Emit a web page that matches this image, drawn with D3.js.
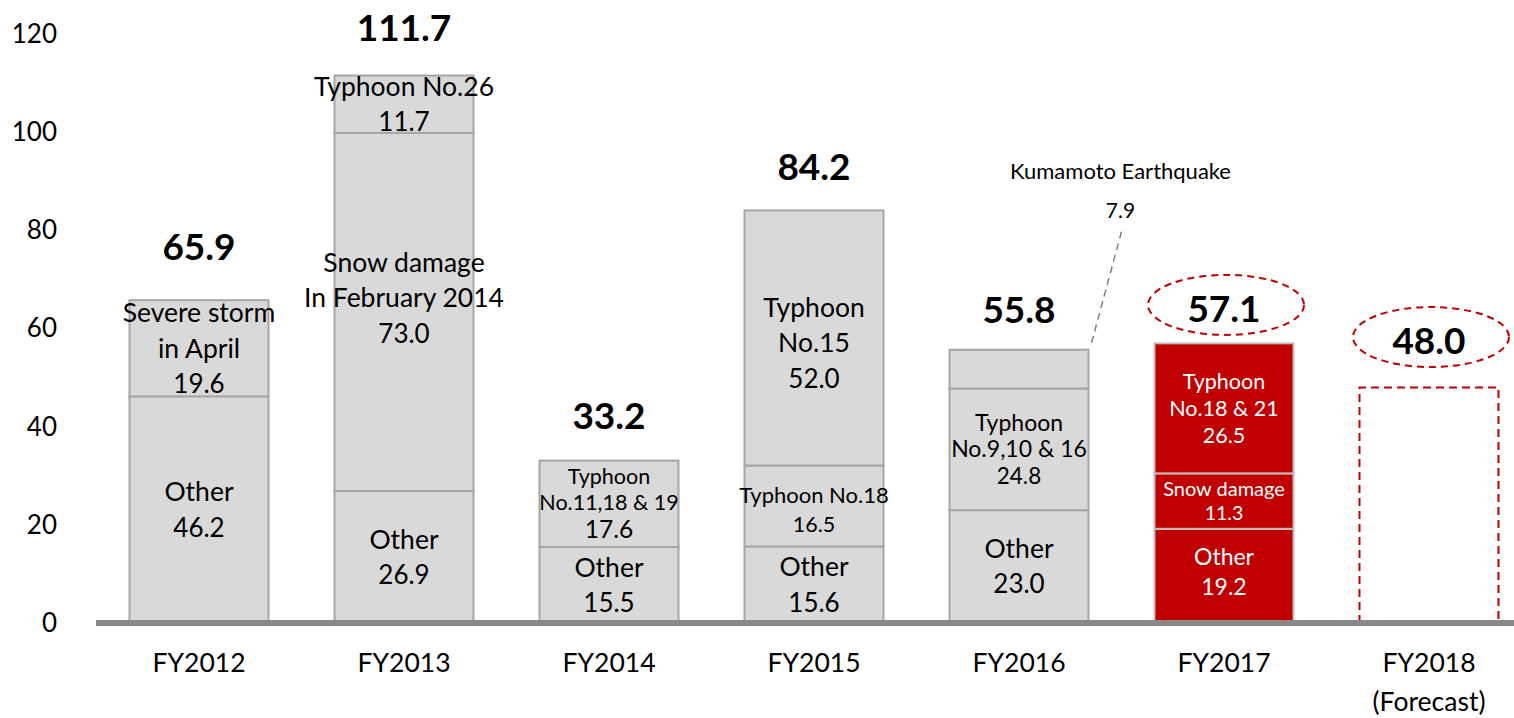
<!DOCTYPE html>
<html>
<head>
<meta charset="utf-8">
<script src="https://cdn.jsdelivr.net/npm/d3@7"></script>
<style>
  body { margin: 0; background: #fff; }
  svg { font-family: Lato, "Open Sans", sans-serif; }
</style>
</head>
<body>
<div id="chart"></div>
<script>
// data
var categories = ["FY2012", "FY2013", "FY2014", "FY2015", "FY2016", "FY2017", "FY2018"];
var tickLabels = ["FY2012", "FY2013", "FY2014", "FY2015", "FY2016", "FY2017", "FY2018\n(Forecast)"];
var other = [46.2, 26.9, 15.5, 15.6, 23.0, 19.2, 0];
var event1 = [19.6, 73.0, 17.6, 16.5, 24.8, 11.3, 0];
var event1Names = ["Severe storm\nin April", "Snow damage\nIn February 2014", "Typhoon\nNo.11,18 & 19",
  "Typhoon No.18", "Typhoon\nNo.9,10 & 16", "Snow damage", ""];
var event2 = [0, 11.7, 0, 52.0, 7.9, 26.5, 0];
var event2Names = ["", "Typhoon No.26", "", "Typhoon\nNo.15", "Kumamoto Earthquake", "Typhoon\nNo.18 & 21", ""];
var totals = [65.9, 111.7, 33.2, 84.2, 55.8, 57.1, 48.0];
var forecast = [0, 0, 0, 0, 0, 0, 48.0];
var yTicks = [0, 20, 40, 60, 80, 100, 120];
var highlight = ["FY2017"];
var circled = ["FY2017", "FY2018"];

// layout
var svgWidth = 1514;
var svgHeight = 718;
var totalLift = [53, 47, 44, 43, 39, 34, 46.5];
var gray = "#d9d9d9", grayEdge = "#a6a6a6", red = "#c00000";

// label styles: size of name lines, size of value line, line height, nudge
var defaultStyle = {size: 26.5, vsize: 26, lh: 35.5, dy: 0};
var labelStyle = {
  "FY2013|event1": {dy: -14},
  "FY2014|event1": {size: 21.5, vsize: 24.5, lh: 26.5, dy: -1},
  "FY2015|event1": {size: 22, vsize: 21.5, lh: 29, dy: 4},
  "FY2015|event2": {dy: 5},
  "FY2016|event1": {size: 23, vsize: 22.5, lh: 26.5},
  "FY2017|event2": {size: 21.5, vsize: 21.5, lh: 27},
  "FY2017|event1": {size: 20, vsize: 19.5, lh: 25},
  "FY2017|other": {size: 23, vsize: 23, lh: 29.5, dy: -4}
};

var svg = d3.select("#chart")
  .append("svg")
  .attr("width", svgWidth)
  .attr("height", svgHeight);

var x = d3.scaleBand()
  .domain(categories)
  .range([96.5, 1531.5])
  .paddingInner(0.322)
  .paddingOuter(0.161);

var y = d3.scaleLinear()
  .domain([0, 120])
  .range([623, 34.3]);

var table = categories.map(function(c, i) {
  return {year: c, other: other[i], event1: event1[i], event2: event2[i], i: i};
});
var keys = ["other", "event1", "event2"];
var series = d3.stack().keys(keys)(table);
var fmt = d3.format(".1f");

// y axis labels only
var yAxis = svg.append("g")
  .attr("transform", "translate(60,0)")
  .call(d3.axisLeft(y).tickValues(yTicks).tickSize(0).tickPadding(3));
yAxis.select(".domain").remove();
yAxis.selectAll("text")
  .attr("font-family", "Lato, sans-serif")
  .attr("font-size", 26)
  .attr("fill", "#000");

// stacked bars
series.forEach(function(s) {
  s.forEach(function(d) {
    var v = d[1] - d[0];
    if (!(v > 0)) return;
    var yr = d.data.year;
    var hi = highlight.indexOf(yr) >= 0;
    svg.append("rect")
      .attr("x", x(yr))
      .attr("y", y(d[1]))
      .attr("width", x.bandwidth())
      .attr("height", y(d[0]) - y(d[1]))
      .attr("fill", hi ? red : gray)
      .attr("stroke", hi ? "#bfbfbf" : grayEdge)
      .attr("stroke-width", 2);
  });
});

// forecast bar, dashed outline
svg.selectAll(".forecast")
  .data(table.filter(function(d) { return forecast[d.i] > 0; }))
  .enter()
  .append("path")
  .attr("d", function(d) {
    var x0 = x(d.year), x1 = x0 + x.bandwidth();
    return "M" + x0 + "," + y(0) + "V" + y(forecast[d.i]) + "H" + x1 + "V" + y(0);
  })
  .attr("fill", "none")
  .attr("stroke", red)
  .attr("stroke-width", 2)
  .attr("stroke-dasharray", "8,5");

// segment labels
series.forEach(function(s) {
  var key = s.key;
  s.forEach(function(d) {
    var v = d[1] - d[0];
    if (!(v > 0)) return;
    var yr = d.data.year, i = d.data.i;
    if (yr === "FY2016" && key === "event2") return; // annotated outside
    var name = key === "other" ? "Other" : (key === "event1" ? event1Names[i] : event2Names[i]);
    var st = Object.assign({}, defaultStyle, labelStyle[yr + "|" + key] || {});
    var lines = name.split("\n").concat([fmt(v)]);
    var cy = (y(d[0]) + y(d[1])) / 2 + st.dy;
    var hi = highlight.indexOf(yr) >= 0;
    lines.forEach(function(t, j) {
      svg.append("text")
        .attr("x", x(yr) + x.bandwidth() / 2)
        .attr("y", cy + (j - (lines.length - 1) / 2) * st.lh)
        .attr("dy", "0.35em")
        .attr("text-anchor", "middle")
        .attr("font-size", j === lines.length - 1 ? st.vsize : st.size)
        .attr("fill", hi ? "#fff" : "#000")
        .text(t);
    });
  });
});

// Kumamoto annotation with dashed leader
var kIdx = categories.indexOf("FY2016");
var kRight = x("FY2016") + x.bandwidth();
var kTop = y(other[kIdx] + event1[kIdx] + event2[kIdx]);
svg.append("line")
  .attr("x1", kRight + 33)
  .attr("y1", kTop - 118)
  .attr("x2", kRight + 2)
  .attr("y2", kTop - 3)
  .attr("stroke", "#808080")
  .attr("stroke-width", 1.5)
  .attr("stroke-dasharray", "7,5");
svg.append("text")
  .attr("x", kRight + 32)
  .attr("y", kTop - 178)
  .attr("dy", "0.35em")
  .attr("text-anchor", "middle")
  .attr("font-size", 22)
  .text(event2Names[kIdx]);
svg.append("text")
  .attr("x", kRight + 32)
  .attr("y", kTop - 139)
  .attr("dy", "0.35em")
  .attr("text-anchor", "middle")
  .attr("font-size", 21)
  .text(fmt(event2[kIdx]));

// totals above bars
svg.selectAll(".total")
  .data(table)
  .enter()
  .append("text")
  .attr("class", "total")
  .attr("x", function(d) { return x(d.year) + x.bandwidth() / 2; })
  .attr("y", function(d) { return y(totals[d.i]) - totalLift[d.i]; })
  .attr("dy", "0.35em")
  .attr("text-anchor", "middle")
  .attr("font-size", 37)
  .attr("font-weight", "bold")
  .text(function(d) { return fmt(totals[d.i]); });

// dashed ellipses round the latest totals
svg.selectAll(".ring")
  .data(table.filter(function(d) { return circled.indexOf(d.year) >= 0; }))
  .enter()
  .append("ellipse")
  .attr("cx", function(d) { return x(d.year) + x.bandwidth() / 2 + 2; })
  .attr("cy", function(d) { return y(totals[d.i]) - totalLift[d.i] - 4; })
  .attr("rx", 78)
  .attr("ry", 30)
  .attr("fill", "none")
  .attr("stroke", red)
  .attr("stroke-width", 2)
  .attr("stroke-dasharray", "7,5");

// baseline
svg.append("line")
  .attr("x1", 96)
  .attr("x2", svgWidth)
  .attr("y1", y(0))
  .attr("y2", y(0))
  .attr("stroke", "#898989")
  .attr("stroke-width", 6);

// x axis labels
var xAxis = svg.append("g")
  .attr("transform", "translate(0," + y(0) + ")")
  .call(d3.axisBottom(x).tickSize(0).tickPadding(30)
    .tickFormat(function() { return ""; }));
xAxis.select(".domain").remove();
xAxis.selectAll(".tick text")
  .attr("font-family", "Lato, sans-serif")
  .attr("font-size", 26.5)
  .attr("fill", "#000")
  .each(function(d, i) {
    var t = d3.select(this);
    tickLabels[i].split("\n").forEach(function(line, j) {
      t.append("tspan")
        .attr("x", 0)
        .attr("dy", j === 0 ? "0.71em" : "1.48em")
        .text(line);
    });
  })
  .attr("dy", null);
</script>
</body>
</html>
